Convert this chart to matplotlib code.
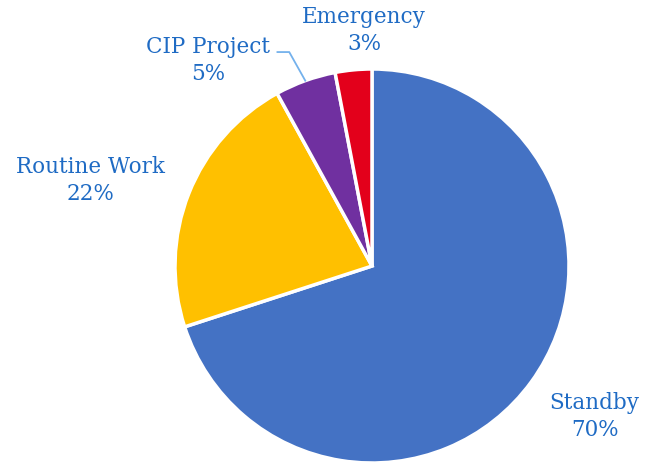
import numpy as np
import matplotlib.pyplot as plt

# time split by activity
labels = ["Standby", "Routine Work", "CIP Project", "Emergency"]
shares = [70, 22, 5, 3]
colors = ["#4472C4", "#FFC000", "#7030A0", "#E3001B"]

text_col = "#1F6BC4"
plt.rcParams['font.family'] = ['DejaVu Serif']

fig = plt.figure(figsize=(6.46, 4.64), dpi=100)
# pie centre at (372, 267) px, radius 197 px
cx, cy, r = 372, 267, 197
ax = fig.add_axes([(cx - r) / 646, (464 - cy - r) / 464, 2 * r / 646, 2 * r / 464])

wedges, _ = ax.pie(shares, colors=colors, startangle=90, counterclock=False,
                   radius=1.0, wedgeprops=dict(edgecolor="white", linewidth=2.5))
ax.set_xlim(-1, 1)
ax.set_ylim(-1, 1)
ax.set_aspect("equal")
ax.axis("off")

label_pos = [(1.13, -0.76), (-1.43, 0.44), (-0.83, 1.05), (-0.04, 1.20)]
for lab, val, (x, y) in zip(labels, shares, label_pos):
    ax.text(x, y, f"{lab}\n{val}%", ha="center", va="center", fontsize=15.5,
            color=text_col, linespacing=1.3, clip_on=False)

# leader line for CIP Project
w = wedges[2]
mid = np.deg2rad((w.theta1 + w.theta2) / 2)
px, py = np.cos(mid) * 1.0, np.sin(mid) * 1.0
ax.plot([-0.48, -0.42, px], [1.086, 1.086, py], color="#74B1EC", lw=1.3,
        clip_on=False)

fig.savefig("out.png", dpi=100)
